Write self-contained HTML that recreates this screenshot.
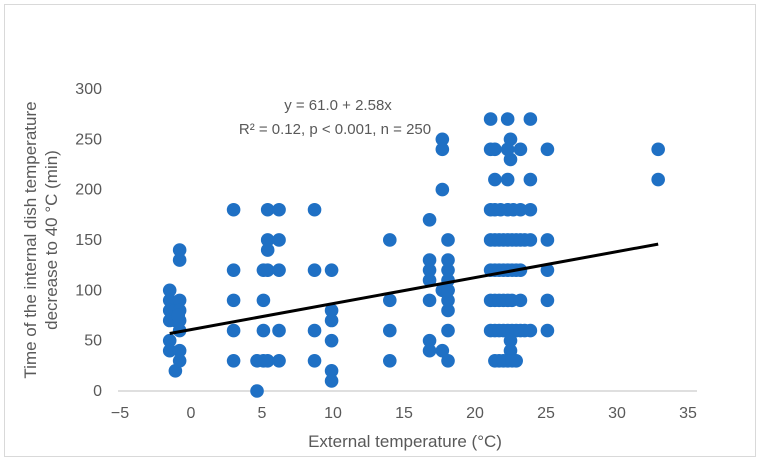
<!DOCTYPE html>
<html><head><meta charset="utf-8"><style>
body{margin:0;background:#fff;font-family:"Liberation Sans",sans-serif}
svg text{font-family:"Liberation Sans",sans-serif;fill:#595959}
</style></head><body>
<svg width="760" height="462">
<rect x="4.5" y="4.5" width="751" height="452" fill="#fff" stroke="#d9d9d9"/>
<g id="axes"></g><g id="pts"></g><g id="fit"></g>
<text x="338" y="110" font-size="15" text-anchor="middle">y = 61.0  + 2.58x</text>
<text x="335" y="134" font-size="15" text-anchor="middle">R² = 0.12, p &lt; 0.001, n = 250</text>
<text x="405" y="447" font-size="17" text-anchor="middle">External temperature (°C)</text>
<g transform="translate(36,240) rotate(-90)">
<text x="0" y="0" font-size="17" text-anchor="middle">Time of the internal dish temperature</text>
<text x="0" y="21" font-size="17" text-anchor="middle">decrease to 40 °C (min)</text>
</g>
</svg>
<script>
const xTicks=[-5,0,5,10,15,20,25,30,35];
const yTicks=[0,50,100,150,200,250,300];
const ptX=[-1.5,-1.5,-1.5,-1.5,-1.5,-1.5,-1.1,-1.1,-1.1,-0.8,-0.8,-0.8,-0.8,-0.8,-0.8,-0.8,-0.8,-0.9,
3,3,3,3,3,4.65,4.65,5.1,5.1,5.1,5.1,5.4,5.4,5.4,5.4,5.4,6.2,6.2,6.2,6.2,6.2,8.7,8.7,8.7,8.7,
9.9,9.9,9.9,9.9,9.9,9.9,14,14,14,14,16.8,16.8,16.8,16.8,16.8,16.8,16.8,17.7,17.7,17.7,17.7,17.7,
18.1,18.1,18.1,18.1,18.1,18.1,18.1,18.1,18.1,18.1,
21.1,22.3,23.9,22.5,22.5,21.1,21.4,22.3,23.2,25.1,32.9,21.4,22.3,23.9,32.9,
21.1,21.4,21.8,22.3,22.7,23.2,23.9,
21.1,21.4,21.7,22,22.3,22.6,22.9,23.2,23.5,23.9,25.1,
21.1,21.4,21.7,22,22.3,22.6,22.9,23.2,25.1,
21.1,21.4,21.7,22,22.3,22.6,23.2,25.1,
21.1,21.4,21.7,22,22.3,22.6,22.9,23.2,23.5,23.9,25.1,
22.5,22.5,21.4,21.7,22,22.3,22.6,22.9];
const ptY=[100,90,80,70,50,40,80,70,20,140,130,90,80,70,60,40,30,75,
180,120,90,60,30,0,30,30,60,90,120,180,150,140,120,30,180,150,120,60,30,180,120,60,30,
120,80,70,50,20,10,150,90,60,30,170,130,120,110,90,50,40,250,240,200,100,40,
150,130,120,110,100,90,80,60,30,100,
270,270,270,250,230,240,240,240,240,240,240,210,210,210,210,
180,180,180,180,180,180,180,
150,150,150,150,150,150,150,150,150,150,150,
120,120,120,120,120,120,120,120,120,
90,90,90,90,90,90,90,90,
60,60,60,60,60,60,60,60,60,60,60,
50,40,30,30,30,30,30,30];
const fitIntercept=61.0, fitSlope=2.58, fitRange=[-1.5,32.9];
const NS="http://www.w3.org/2000/svg";
const sx=v=>120+(v+5)*14.2, sy=v=>391-v*1.007;
function mk(tag,attrs,parent){const e=document.createElementNS(NS,tag);for(const k in attrs)e.setAttribute(k,attrs[k]);parent.appendChild(e);return e;}
const ax=document.getElementById('axes');
const xl=mk('line',{x1:118,x2:697,y1:sy(0),y2:sy(0),stroke:'#bfbfbf','stroke-width':1},ax);


xTicks.forEach(t=>{const e=mk('text',{x:sx(t),y:418,'font-size':16,'text-anchor':'middle'},ax);e.textContent=t<0?'\u2212'+(-t):t;

});
yTicks.forEach(t=>{const e=mk('text',{x:102,y:sy(t)+5,'font-size':16,'text-anchor':'end'},ax);e.textContent=t;

});
const pg=document.getElementById('pts');
ptX.forEach((x,i)=>{const c=mk('circle',{cx:sx(x),cy:sy(ptY[i]),r:6.8,fill:'#1f70c4'},pg);

});
const f=fitRange.map(x=>[sx(x),sy(fitIntercept+fitSlope*x)]);
const ln=mk('line',{x1:f[0][0],y1:f[0][1],x2:f[1][0],y2:f[1][1],stroke:'#000','stroke-width':3},document.getElementById('fit'));


</script>
</body></html>
